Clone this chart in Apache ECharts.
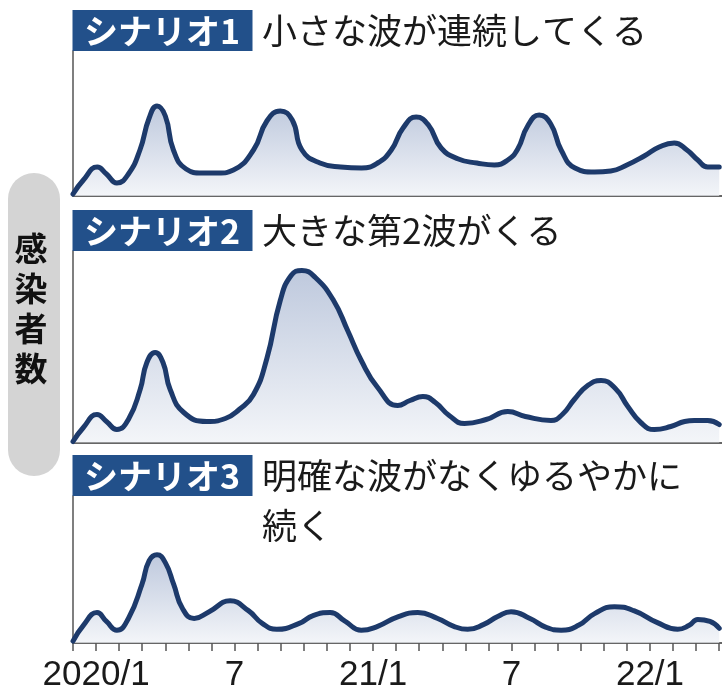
<!DOCTYPE html>
<html>
<head>
<meta charset="utf-8">
<script src="https://cdn.jsdelivr.net/npm/echarts@6/dist/echarts.min.js"></script>
<style>
  html, body { margin: 0; padding: 0; background: #fff; }
  #chart { width: 722px; height: 693px; }
</style>
</head>
<body>
<div id="chart"></div>
<script>
// Months counted from 2019/12 (0) to 2022/4 (28); values are relative case counts.
const tickMonths = [0,1,2,3,4,5,6,7,8,9,10,11,12,13,14,15,16,17,18,19,20,21,22,23,24,25,26,27,28];
const tickLabelMonths = [1, 7, 13, 19, 25];
const tickLabels = ['2020/1', '7', '21/1', '7', '22/1'];

const scenarioNames = ['シナリオ1', 'シナリオ2', 'シナリオ3'];
const scenarioTexts = ['小さな波が連続してくる', '大きな第2波がくる', '明確な波がなくゆるやかに\n続く'];
const yAxisName = '感染者数';

// Scenario 1: repeated small waves
const s1Months = [0, 0.45, 1.05, 1.45, 1.9, 2.4, 2.9, 3.3, 3.64, 4.0, 4.35, 4.9, 5.6, 6.3, 6.95, 7.82, 8.4, 8.98, 9.5, 9.92, 10.7, 11.6, 12.5, 13.2, 13.79, 14.3, 14.87, 15.4, 15.95, 16.7, 17.5, 18.26, 18.84, 19.27, 19.7, 20.2, 20.7, 21.15, 21.75, 22.6, 23.3, 24.0, 24.75, 25.4, 26.05, 26.6, 27.07, 27.5, 28];
const s1Values = [2, 16, 29, 22, 13, 22, 46, 78, 90, 80, 46, 27, 23, 23, 26, 46, 75, 85, 76, 46, 33, 29, 28, 33, 46, 68, 79, 71, 48, 37, 33, 31, 36, 47, 70, 81, 72, 46, 28, 24, 25, 31, 40, 49, 53, 46, 36, 29, 29];

// Scenario 2: one large second wave
const s2Months = [0, 0.45, 1.04, 1.45, 1.9, 2.4, 2.91, 3.2, 3.56, 3.9, 4.21, 4.8, 5.8, 6.6, 7.2, 7.82, 8.4, 8.98, 9.45, 9.92, 10.5, 11.29, 11.9, 12.49, 13.2, 14.07, 14.6, 15.16, 15.7, 16.3, 16.96, 17.9, 18.84, 19.6, 20.71, 21.2, 21.72, 22.3, 22.88, 23.5, 24.04, 24.6, 25.19, 25.9, 26.5, 26.92, 27.5, 28];
const s2Values = [1, 15, 28, 21, 13, 23, 53, 80, 90, 80, 53, 30, 21, 24, 33, 48, 84, 142, 167, 172, 165, 142, 112, 82, 55, 37, 42, 46, 40, 27, 19, 23, 31, 26, 22, 28, 43, 57, 62, 54, 36, 20, 13, 16, 21, 22, 22, 18];

// Scenario 3: no clear wave, slow continuation
const s3Months = [0, 0.45, 1.04, 1.45, 1.9, 2.4, 2.99, 3.3, 3.64, 4.0, 4.36, 4.75, 5.25, 5.9, 6.81, 7.6, 8.2, 8.83, 9.8, 10.4, 11.14, 11.8, 12.49, 13.2, 14.1, 14.94, 15.8, 16.5, 17.1, 17.8, 18.4, 18.98, 19.8, 20.5, 21.15, 21.9, 22.6, 23.46, 24.3, 25.3, 26.2, 26.7, 27.07, 27.6, 28];
const s3Values = [2, 18, 31, 22, 13, 25, 60, 84, 90, 82, 60, 35, 25, 32, 43, 33, 20, 14, 20, 28, 31, 22, 13, 17, 27, 31, 25, 17, 14, 19, 27, 32, 25, 16, 13, 18, 30, 37, 33, 21, 14, 18, 24, 22, 15];

const seriesMonths = [s1Months, s2Months, s3Months];
const seriesValues = [s1Values, s2Values, s3Values];

// Panel layout (pixels)
const plotLeft = 73;
const panelTops = [51, 251, 496];
const panelHeights = [145, 191.5, 150];
const boxTops = [10, 210, 455];
const boxHeight = 41;
const boxWidth = 180;
const subtitleLineHeight = 50;

const lineColor = '#1d3a6b';
const boxColor = '#22508a';
const axisColor = '#555';

const grids = [], xAxes = [], yAxes = [], series = [];
for (let i = 0; i < 3; i++) {
  const last = i === 2;
  grids.push({ left: plotLeft, right: 0, top: panelTops[i], height: panelHeights[i] });
  xAxes.push({
    type: 'value', gridIndex: i, min: 0, max: 28.12,
    axisLine: { show: true, onZero: false, lineStyle: { color: '#666', width: 2 } },
    axisTick: { show: last, customValues: tickMonths, length: 8, lineStyle: { color: axisColor, width: 1.5 } },
    axisLabel: {
      show: last, customValues: tickLabelMonths, margin: 15,
      formatter: v => tickLabels[tickLabelMonths.indexOf(Math.round(v))] || '',
      fontFamily: '"Liberation Sans", Arial, sans-serif',
      fontSize: 35, color: '#1a1a1a'
    },
    splitLine: { show: false }
  });
  yAxes.push({
    type: 'value', gridIndex: i, min: 0, max: panelHeights[i],
    axisLine: { show: true, lineStyle: { color: axisColor, width: 1.5 } },
    axisTick: { show: false }, axisLabel: { show: false }, splitLine: { show: false }
  });
  series.push({
    type: 'line', xAxisIndex: i, yAxisIndex: i,
    data: seriesMonths[i].map((m, k) => [m, seriesValues[i][k]]),
    smooth: 0.5, showSymbol: false, clip: false,
    lineStyle: { color: lineColor, width: 5, cap: 'round', join: 'round' },
    areaStyle: {
      color: new echarts.graphic.LinearGradient(0, 0, 0, 1, [
        { offset: 0, color: '#a3b2cf' },
        { offset: 1, color: '#eef1f6' }
      ])
    },
    z: 3
  });
}

const graphics = [
  // grey pill holding the vertical axis title
  { type: 'rect', x: 8, y: 173, shape: { width: 52, height: 303, r: 26 }, style: { fill: '#d4d4d4' }, z: 1 },
  { type: 'text', x: 31, y: 308,
    style: { text: yAxisName.split('').join('\n'), font: 'bold 33px "Noto Sans CJK JP", sans-serif',
             lineHeight: 40, fill: '#111', align: 'center', verticalAlign: 'middle' }, z: 2 }
];
for (let i = 0; i < 3; i++) {
  const mid = boxTops[i] + boxHeight / 2;
  graphics.push({ type: 'rect', x: plotLeft - 0.5, y: boxTops[i],
    shape: { width: boxWidth, height: boxHeight }, style: { fill: boxColor }, z: 10 });
  graphics.push({ type: 'text', x: 84, y: mid + 1,
    style: { text: scenarioNames[i], font: 'bold 34px "Noto Sans CJK JP", sans-serif',
             fill: '#fff', align: 'left', verticalAlign: 'middle' }, z: 11 });
  // first subtitle line is centred on the box, a second line runs below it
  graphics.push({ type: 'text', x: 262, y: mid - subtitleLineHeight / 2,
    style: { text: scenarioTexts[i], font: '35px "Noto Sans CJK JP", sans-serif',
             lineHeight: subtitleLineHeight, fill: '#1a1a1a', align: 'left', verticalAlign: 'top' }, z: 11 });
}

const chart = echarts.init(document.getElementById('chart'), null, { renderer: 'canvas' });
chart.setOption({
  animation: false,
  backgroundColor: '#fff',
  grid: grids, xAxis: xAxes, yAxis: yAxes, series: series,
  graphic: graphics
});
</script>
</body>
</html>
